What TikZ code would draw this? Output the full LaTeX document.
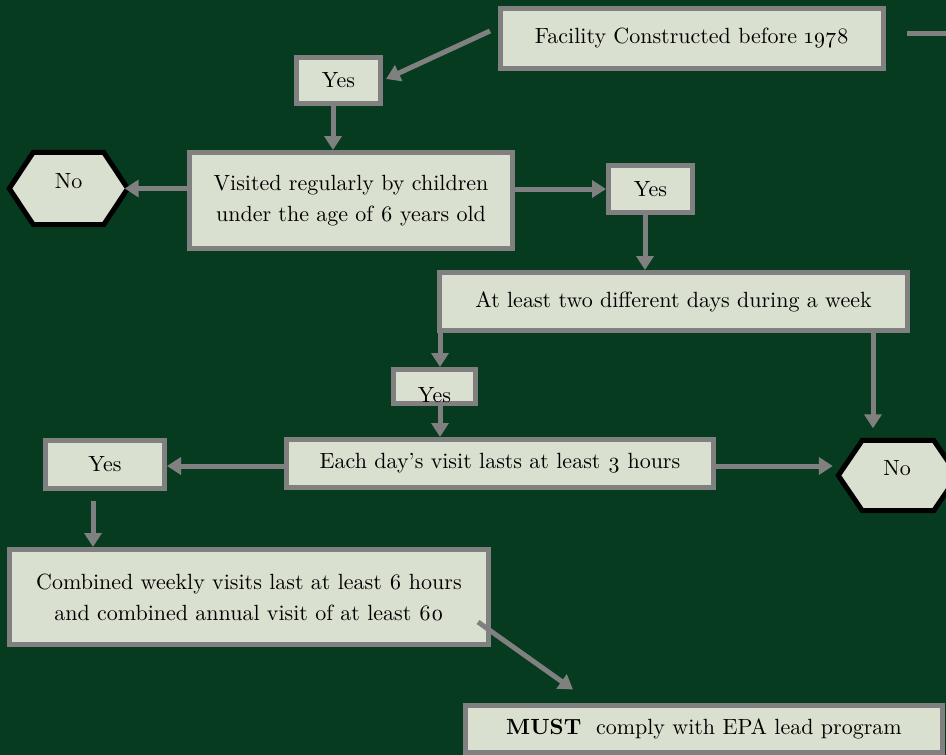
\documentclass[tikz,border=0pt]{standalone}
\usepackage{fontspec}
\setmainfont{lmroman10-regular.otf}[BoldFont=lmroman10-bold.otf]
\usetikzlibrary{arrows.meta,backgrounds}
\definecolor{bggreen}{RGB}{7,59,31}
\definecolor{boxfill}{RGB}{218,224,207}
\definecolor{greyline}{RGB}{128,128,128}
\tikzset{
  box/.style={draw=greyline, line width=5pt, fill=boxfill, inner sep=0pt,
    font=\fontsize{22}{31}\selectfont, text=black},
  hexcarrier/.style={inner sep=0pt},
  hexshape/.style={draw=black, line width=5pt, fill=boxfill, line join=miter},
  txt/.style={font=\fontsize{22}{31}\selectfont, text=black, inner sep=0pt},
  arr/.style={draw=greyline, line width=5pt, -{Triangle[width=17pt,length=14pt]}},
  plainline/.style={draw=greyline, line width=5pt},
}
\begin{document}
\begin{tikzpicture}[x=1pt,y=-1pt]
\useasboundingbox (0,0) rectangle (946,755);
\begin{scope}[on background layer]
  \fill[bggreen] (0,0) rectangle (946,755);
\end{scope}

% boxes
\node[box, minimum width=383pt, minimum height=60pt] (b1) at (692,38.5) {Facility Constructed before \oldstylenums{1978}};
\node[box, minimum width=84pt, minimum height=46pt] (yes1) at (338.5,80.5) {Yes};
\node[box, align=center, minimum width=323pt, minimum height=96pt] (b2) at (351,200.5) {Visited regularly by children\\under the age of \oldstylenums{6} years old};
\node[hexcarrier, minimum width=118pt, minimum height=72pt] (no1) at (68.5,188.5) {};
\node[box, minimum width=84pt, minimum height=47pt] (yes2) at (650.5,189) {Yes};
\node[box, minimum width=468pt, minimum height=58pt] (b3) at (673.5,301.5) {At least two different days during a week\hspace{26pt}};
\node[box, minimum width=82pt, minimum height=34pt] (yes3) at (434.5,386.5) {};
\node[txt] (yes3t) at (434.5,395) {Yes};
\node[hexcarrier, minimum width=119pt, minimum height=70pt] (no2) at (898,475.5) {};
\node[box, minimum width=427pt, minimum height=48pt] (b4) at (500,463.5) {Each day’s visit lasts at least \oldstylenums{3} hours};
\node[box, minimum width=119pt, minimum height=48pt] (yes4) at (105,464.5) {Yes};
\node[box, align=center, minimum width=479pt, minimum height=95pt] (b5) at (249,597) {Combined weekly visits last at least \oldstylenums{6} hours\\and combined annual visit of at least \oldstylenums{60}};
\node[box, minimum width=477pt, minimum height=47pt] (b6) at (704,729) {\textbf{MUST}\ \ comply with EPA lead program};

% hexagons
\begin{scope}[on background layer]
  \draw[hexshape] (no1.west) -- ([xshift=24pt]no1.north west) -- ([xshift=-24pt]no1.north east) -- (no1.east) -- ([xshift=-24pt]no1.south east) -- ([xshift=24pt]no1.south west) -- cycle;
  \draw[hexshape] (no2.west) -- ([xshift=24pt]no2.north west) -- ([xshift=-24pt]no2.north east) -- (no2.east) -- ([xshift=-24pt]no2.south east) -- ([xshift=24pt]no2.south west) -- cycle;
\end{scope}
\node[txt] (no1t) at (68.5,181) {No};
\node[txt] (no2t) at (897,468) {No};

% free ends
\coordinate (a1s) at (490,31);
\coordinate (tr1) at (907,33);
\coordinate (tr2) at (950,33);
\coordinate (a12s) at (478,622);

% connectors
\draw[plainline] (tr1) -- (tr2);
\draw[arr] (a1s) -- ([xshift=3pt,yshift=1.5pt]yes1.east);
\draw[arr] ([xshift=-5.5pt]yes1.south) -- ([xshift=-5.5pt]yes1.south |- b2.north);
\draw[arr, shorten >=-3pt] (no1.east -| b2.west) -- (no1.east);
\draw[arr] (yes2.west -| b2.east) -- (yes2.west);
\draw[arr] ([xshift=-5.5pt]yes2.south) -- ([xshift=-5.5pt]yes2.south |- b3.north);
\draw[arr] ([xshift=5.5pt]yes3.north |- b3.south) -- ([xshift=5.5pt]yes3.north);
\draw[arr] ([xshift=5.5pt]yes3.south) -- ([xshift=5.5pt]yes3.south |- b4.north);
\draw[arr] ([xshift=-25pt]no2.north |- b3.south) -- ([xshift=-25pt,yshift=12pt]no2.north);
\draw[arr] ([yshift=-2.5pt]b4.west) -- ([yshift=-2.5pt]b4.west -| yes4.east);
\draw[arr, shorten >=5.5pt] ([yshift=-2.5pt]b4.east) -- ([yshift=-2.5pt]b4.east -| no2.west);
\draw[arr] ([xshift=-12pt,yshift=-10pt]yes4.south) -- ([xshift=-12pt]yes4.south |- b5.north);
\draw[arr] (a12s) -- ([xshift=-131pt,yshift=13.5pt]b6.north);
\end{tikzpicture}
\end{document}
